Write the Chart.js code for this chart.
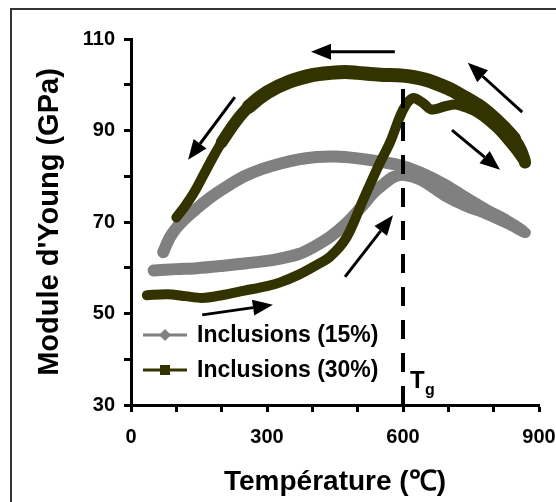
<!DOCTYPE html>
<html>
<head>
<meta charset="utf-8">
<script src="https://cdn.jsdelivr.net/npm/chart.js@4.4.1/dist/chart.umd.min.js"></script>
<style>
    html, body { margin: 0; padding: 0; background: #fff; overflow: hidden; }
    #wrap { width: 556px; height: 502px; }
</style>
</head>
<body>
<div id="wrap"><canvas id="youngChart" width="556" height="502"></canvas></div>
<script>
// Inclusions 15% - heating then cooling
const heat15Temp = [50, 100, 145, 200, 256, 300, 329, 370, 402, 440, 476, 510, 534, 560, 578, 600, 640, 693, 740, 781, 830, 869]
const heat15Mod  = [59.4, 59.7, 59.9, 60.4, 61, 61.5, 62, 63, 64.5, 66.8, 69.8, 73.5, 76.3, 78.5, 79.8, 80.3, 79.2, 75.8, 73.5, 72, 69.8, 67.8]
const cool15Temp = [869, 830, 781, 740, 693, 650, 600, 550, 500, 450, 410, 370, 330, 290, 250, 220, 190, 165, 141, 120, 101, 85, 71]
const cool15Mod  = [67.8, 70.2, 72.8, 75.2, 78.1, 80.3, 82.2, 83.2, 83.9, 84.3, 84.2, 83.7, 82.8, 81.6, 80, 78.3, 76.4, 74.6, 72.6, 70.8, 68.8, 66.5, 63.4]

// Inclusions 30% - heating then cooling
const heat30Temp = [35, 80, 120, 157, 200, 250, 300, 329, 370, 402, 439, 476, 512, 549, 571, 600, 622, 644, 662, 693, 715, 740, 766, 790, 810, 830, 850, 869]
const heat30Mod  = [54, 54.2, 53.8, 53.4, 54, 55, 56, 56.8, 58.5, 60.2, 62.4, 66.7, 74.8, 82.9, 87.3, 94.5, 97.1, 96, 94.6, 95.3, 95.7, 95, 93.8, 92, 90.2, 88, 85.6, 83]
const cool30Temp = [869, 860, 845, 825, 800, 766, 730, 700, 650, 600, 550, 500, 474, 440, 400, 350, 300, 260, 230, 200, 180, 160, 140, 120, 100]
const cool30Mod  = [83, 85.8, 88.2, 90.4, 92.8, 95.5, 97.6, 99.2, 101.1, 102, 102.2, 102.6, 102.8, 102.6, 102.1, 100.7, 98.3, 95.2, 91.8, 87.4, 84, 80.3, 76.6, 73.6, 71]

// Tg marker
const tgTemp = [600, 600]
const tgMod  = [30, 101]

// Arrows (tail -> head), in data units
const arrowFromT = [582, 229, 863, 708, 472, 157]
const arrowFromM = [107.2, 97.3, 94, 90.1, 58, 49.7]
const arrowToT   = [397, 126, 743, 814, 578, 313]
const arrowToM   = [107.2, 83.6, 104.8, 81.4, 71.5, 51.9]

const xLabels = [0, 300, 600, 900]
const yLabels = [30, 50, 70, 90, 110]
const seriesNames = ['Inclusions (15%)', 'Inclusions (30%)']

const toPoints = (t, m) => t.map((v, i) => ({x: v, y: m[i]}))
const FONT = 'Liberation Sans, Arial, sans-serif'

// frame round the figure
const framePlugin = {
    id: 'frame',
    beforeDraw(chart) {
        let ctx = chart.ctx
        ctx.save()
        ctx.strokeStyle = '#333'
        ctx.lineWidth = 2
        ctx.strokeRect(11, 9, 700, 700)
        ctx.restore()
    }
}

// arrows, Tg text and legend inside the plot
const notesPlugin = {
    id: 'notes',
    afterDraw(chart) {
        let ctx = chart.ctx
        let xs = chart.scales.x
        let ys = chart.scales.y
        ctx.save()
        ctx.strokeStyle = '#000'
        ctx.fillStyle = '#000'
        ctx.lineWidth = 3
        arrowFromT.forEach((t, i) => {
            let x1 = xs.getPixelForValue(t), y1 = ys.getPixelForValue(arrowFromM[i])
            let x2 = xs.getPixelForValue(arrowToT[i]), y2 = ys.getPixelForValue(arrowToM[i])
            let a = Math.atan2(y2 - y1, x2 - x1)
            let len = 20, half = 8
            let bx = x2 - len * Math.cos(a), by = y2 - len * Math.sin(a)
            ctx.beginPath()
            ctx.moveTo(x1, y1)
            ctx.lineTo(bx, by)
            ctx.stroke()
            ctx.beginPath()
            ctx.moveTo(x2, y2)
            ctx.lineTo(bx + half * Math.sin(a), by - half * Math.cos(a))
            ctx.lineTo(bx - half * Math.sin(a), by + half * Math.cos(a))
            ctx.closePath()
            ctx.fill()
        })

        // Tg
        let tx = xs.getPixelForValue(tgTemp[0]) + 7
        let ty = ys.bottom - 17
        ctx.textBaseline = 'alphabetic'
        ctx.font = 'bold 24px ' + FONT
        ctx.fillText('T', tx, ty)
        ctx.font = 'bold 16px ' + FONT
        ctx.fillText('g', tx + 15, ty + 7)

        // legend
        let area = chart.chartArea
        chart.data.datasets.slice(0, 2).forEach((ds, i) => {
            let y = area.bottom - 70 + i * 35
            let lx = area.left + 12
            ctx.strokeStyle = ds.borderColor
            ctx.lineWidth = 3
            ctx.beginPath()
            ctx.moveTo(lx, y)
            ctx.lineTo(lx + 44, y)
            ctx.stroke()
            ctx.fillStyle = ds.borderColor
            let cx = lx + 22
            ctx.beginPath()
            if (i === 0) {
                ctx.moveTo(cx, y - 6)
                ctx.lineTo(cx + 6, y)
                ctx.lineTo(cx, y + 6)
                ctx.lineTo(cx - 6, y)
                ctx.closePath()
            } else {
                ctx.rect(cx - 5, y - 5, 10, 10)
            }
            ctx.fill()
            ctx.fillStyle = '#000'
            ctx.font = 'bold 23px ' + FONT
            ctx.textBaseline = 'middle'
            ctx.fillText(seriesNames[i], lx + 54, y + 1)
        })
        ctx.restore()
    }
}

// the cooling branch of the 30% curve is drawn wider, as in the figure
let heat30Count = heat30Temp.length
let coolWidth = function(ctx) {
    let i = ctx.p0DataIndex
    let x = ctx.p0.parsed.x
    if (i < heat30Count - 1) return 10
    if (x > 270 && x < 850) return 14
    if (x > 220 && x <= 270) return 12
    if (x >= 850) return 12
    return 10
}

let chart = new Chart(document.getElementById('youngChart'), {
    type: 'scatter',
    data: {
        datasets: [
            {
                label: seriesNames[0],
                data: toPoints(heat15Temp.concat(cool15Temp.slice(1)), heat15Mod.concat(cool15Mod.slice(1))),
                showLine: true,
                borderColor: '#808080',
                borderWidth: 12,
                borderCapStyle: 'round',
                borderJoinStyle: 'round',
                pointRadius: 0,
                tension: 0.3,
                order: 3
            },
            {
                label: seriesNames[1],
                data: toPoints(heat30Temp.concat(cool30Temp.slice(1)), heat30Mod.concat(cool30Mod.slice(1))),
                showLine: true,
                borderColor: '#333300',
                borderWidth: 10,
                borderCapStyle: 'round',
                borderJoinStyle: 'round',
                pointRadius: 0,
                tension: 0.3,
                segment: {borderWidth: coolWidth},
                order: 2
            },
            {
                label: 'Tg',
                data: toPoints(tgTemp, tgMod),
                showLine: true,
                borderColor: '#000',
                borderWidth: 4,
                borderDash: [19, 14],
                pointRadius: 0,
                order: 1
            }
        ]
    },
    options: {
        responsive: false,
        animation: false,
        layout: {
            padding: {top: 39, right: 17, left: 0, bottom: 0}
        },
        plugins: {
            legend: {display: false},
            tooltip: {enabled: false}
        },
        scales: {
            x: {
                type: 'linear',
                min: 0,
                max: 900,
                afterFit: function(scale) {
                    scale.height = 97
                    scale.paddingRight = 0
                },
                border: {color: '#000', width: 3},
                grid: {drawOnChartArea: false, drawTicks: true, tickLength: 7, tickWidth: 3, tickColor: '#000'},
                ticks: {
                    stepSize: 100,
                    autoSkip: false,
                    maxRotation: 0,
                    padding: 13,
                    color: '#000',
                    font: {family: FONT, size: 20, weight: 'bold'},
                    callback: v => xLabels.includes(v) ? v : ''
                },
                title: {
                    display: true,
                    text: 'Température (℃)',
                    color: '#000',
                    font: {family: FONT, size: 28, weight: 'bold'},
                    padding: {top: 0, bottom: 3}
                }
            },
            y: {
                type: 'linear',
                min: 30,
                max: 110,
                afterFit: function(scale) { scale.width = 131 },
                border: {color: '#000', width: 3},
                grid: {drawOnChartArea: false, drawTicks: true, tickLength: 7, tickWidth: 3, tickColor: '#000'},
                ticks: {
                    stepSize: 10,
                    autoSkip: false,
                    padding: 9,
                    color: '#000',
                    font: {family: FONT, size: 20, weight: 'bold'},
                    callback: v => yLabels.includes(v) ? v : ''
                },
                title: {
                    display: true,
                    text: "Module d'Young (GPa)",
                    color: '#000',
                    font: {family: FONT, size: 29, weight: 'bold'},
                    padding: {top: 33, bottom: 0}
                }
            }
        }
    },
    plugins: [framePlugin, notesPlugin]
})
</script>
</body>
</html>
